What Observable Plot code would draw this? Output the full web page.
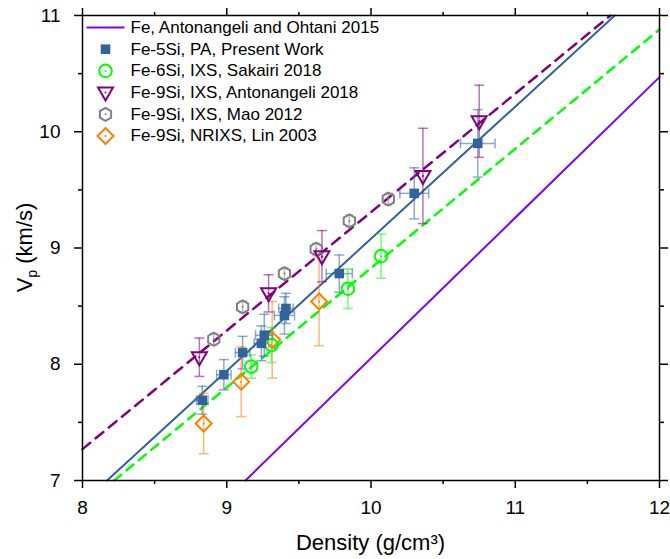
<!DOCTYPE html>
<html><head><meta charset="utf-8">
<script src="https://cdn.jsdelivr.net/npm/d3@7"></script>
<script src="https://cdn.jsdelivr.net/npm/@observablehq/plot@0.6"></script>
<style>body{margin:0;background:#fff;} svg{display:block;}</style>
</head><body><div id="chart"></div>
<script>
// ---- data ----
const xTicks = [8, 9, 10, 11, 12];
const xMinor = [8.5, 9.5, 10.5, 11.5];
const yTicks = [7, 8, 9, 10, 11];
const yMinor = [7.5, 8.5, 9.5, 10.5];

// fitted / reference lines (end points)
const feLineX = [9.13, 12];      const feLineY = [7, 10.47];
const fe5LineX = [8.17, 11.69];  const fe5LineY = [7, 11];
const sakLineX = [8.22, 12];     const sakLineY = [7, 10.88];
const antLineX = [8, 11.66];     const antLineY = [7.27, 11];

// Fe-5Si, PA, present work
const fe5x = [8.83, 8.98, 9.11, 9.24, 9.26, 9.40, 9.41, 9.78, 10.30, 10.74];
const fe5y = [7.69, 7.91, 8.10, 8.18, 8.25, 8.42, 8.48, 8.78, 9.47, 9.90];
const fe5yErr = [0.12, 0.13, 0.14, 0.15, 0.18, 0.16, 0.13, 0.16, 0.22, 0.29];
const fe5xErr = [0.04, 0.05, 0.05, 0.05, 0.06, 0.07, 0.05, 0.09, 0.10, 0.12];
// Fe-6Si, IXS, Sakairi 2018
const sakx = [9.17, 9.31, 9.84, 10.07];
const saky = [7.98, 8.165, 8.65, 8.93];
const sakErr = [0.10, 0.15, 0.17, 0.19];
// Fe-9Si, IXS, Antonangeli 2018
const antx = [8.81, 9.29, 9.66, 10.36, 10.75];
const anty = [8.06, 8.61, 8.93, 9.62, 10.09];
const antErr = [0.165, 0.16, 0.22, 0.41, 0.31];
// Fe-9Si, IXS, Mao 2012
const maox = [8.91, 9.11, 9.40, 9.62, 9.85, 10.12];
const maoy = [8.215, 8.494, 8.78, 8.99, 9.233, 9.42];
const maoErr = [0.05, 0.05, 0.05, 0.05, 0.05, 0.05];
// Fe-9Si, NRIXS, Lin 2003
const linx = [8.84, 9.10, 9.315, 9.64];
const liny = [7.49, 7.85, 8.21, 8.54];
const linErr = [0.26, 0.30, 0.33, 0.38];

const legendLabels = [
  "Fe, Antonangeli and Ohtani 2015",
  "Fe-5Si, PA, Present Work",
  "Fe-6Si, IXS, Sakairi 2018",
  "Fe-9Si, IXS, Antonangeli 2018",
  "Fe-9Si, IXS, Mao 2012",
  "Fe-9Si, NRIXS, Lin 2003"
];

// ---- styles ----
const cFe = "#8000ff", cBlue = "#31639c", cGreen = "#00ff00", cPurple = "#800080", cGrey = "#808080", cOrange = "#ff8000";

const sym = (pts) => ({draw(ctx) { ctx.moveTo(pts[0][0], pts[0][1]); for (const p of pts.slice(1)) ctx.lineTo(p[0], p[1]); ctx.closePath(); }});
const triDown = sym([[-7.5, -5], [7.5, -5], [0, 8]]);
const diamond = sym([[0, -8], [8, 0], [0, 8], [-8, 0]]);
const hexagon = sym(d3.range(6).map(k => [6.5 * Math.cos(Math.PI / 2 + k * Math.PI / 3), 6.5 * Math.sin(Math.PI / 2 + k * Math.PI / 3)]));
const capH = (w) => ({draw(ctx) { ctx.moveTo(-w, 0); ctx.lineTo(w, 0); }});
const capV = (w) => ({draw(ctx) { ctx.moveTo(0, -w); ctx.lineTo(0, w); }});
const lineSym = {draw(ctx) { ctx.moveTo(-19, 0); ctx.lineTo(19, 0); }};

function lineMark(xs, ys, color, dash) {
  const idx = d3.range(xs.length);
  return Plot.line(idx, {x: i => xs[i], y: i => ys[i], stroke: color, strokeWidth: dash ? 2.5 : 2, strokeDasharray: dash || null});
}
function errY(xs, ys, es, color, cap) {
  const idx = d3.range(xs.length);
  const o = {stroke: color, strokeOpacity: 0.55, strokeWidth: 1.5};
  return [
    Plot.ruleX(idx, {x: i => xs[i], y1: i => ys[i] - es[i], y2: i => ys[i] + es[i], ...o}),
    Plot.dot(idx, {x: i => xs[i], y: i => ys[i] - es[i], symbol: capH(cap), fill: "none", ...o}),
    Plot.dot(idx, {x: i => xs[i], y: i => ys[i] + es[i], symbol: capH(cap), fill: "none", ...o})
  ];
}
function errX(xs, ys, es, color, cap) {
  const idx = d3.range(xs.length);
  const o = {stroke: color, strokeOpacity: 0.55, strokeWidth: 1.5};
  return [
    Plot.ruleY(idx, {y: i => ys[i], x1: i => xs[i] - es[i], x2: i => xs[i] + es[i], ...o}),
    Plot.dot(idx, {x: i => xs[i] - es[i], y: i => ys[i], symbol: capV(cap), fill: "none", ...o}),
    Plot.dot(idx, {x: i => xs[i] + es[i], y: i => ys[i], symbol: capV(cap), fill: "none", ...o})
  ];
}
function openMarker(xs, ys, color, symbol) {
  const idx = d3.range(xs.length);
  return [
    Plot.dot(idx, {x: i => xs[i], y: i => ys[i], symbol, fill: "white", fillOpacity: 0, stroke: color, strokeWidth: 2, r: 6.3}),
    Plot.dot(idx, {x: i => xs[i], y: i => ys[i], r: 1, fill: color})
  ];
}

// legend marks
const legendSyms = [
  {symbol: lineSym, stroke: cFe, fill: "none", strokeWidth: 2},
  {symbol: "square", fill: cBlue, r: 5.4},
  {symbol: "circle", stroke: cGreen, fill: "none", strokeWidth: 2, r: 6.3, dot: true},
  {symbol: triDown, stroke: cPurple, fill: "none", strokeWidth: 2, dot: true},
  {symbol: hexagon, stroke: cGrey, fill: "none", strokeWidth: 2, dot: true},
  {symbol: diamond, stroke: cOrange, fill: "none", strokeWidth: 2, dot: true}
];
const legendMarks = [];
legendLabels.forEach((label, i) => {
  const dy = 12 + 21.7 * i;
  const s = legendSyms[i];
  const {dot, ...opts} = s;
  legendMarks.push(Plot.dot([label], {frameAnchor: "top-left", dx: 23, dy, ...opts}));
  if (dot) legendMarks.push(Plot.dot([label], {frameAnchor: "top-left", dx: 23, dy, r: 1, fill: s.stroke}));
  legendMarks.push(Plot.text([label], {frameAnchor: "top-left", dx: 48, dy, text: d => d, textAnchor: "start", lineAnchor: "middle", fontSize: 17, fill: "black"}));
});

const fe5idx = d3.range(fe5x.length);
const intFmt = d3.format("d");
const blank = () => "";

const chart = Plot.plot({
  width: 670,
  height: 559,
  marginLeft: 82,
  marginRight: 11,
  marginTop: 15,
  marginBottom: 79,
  style: {fontFamily: "'Liberation Sans', Arial, sans-serif", color: "black", background: "white", overflow: "visible"},
  x: {domain: [8, 12], label: null},
  y: {domain: [7, 11], label: null},
  marks: [
    lineMark(feLineX, feLineY, cFe),
    lineMark(fe5LineX, fe5LineY, cBlue),
    lineMark(sakLineX, sakLineY, cGreen, "9,7"),
    lineMark(antLineX, antLineY, cPurple, "10,7"),
    ...errY(maox, maoy, maoErr, cGrey, 4),
    ...errY(linx, liny, linErr, cOrange, 5),
    ...errY(sakx, saky, sakErr, cGreen, 5),
    ...errY(antx, anty, antErr, cPurple, 5),
    ...errY(fe5x, fe5y, fe5yErr, cBlue, 5),
    ...errX(fe5x, fe5y, fe5xErr, cBlue, 5),
    ...openMarker(maox, maoy, cGrey, hexagon),
    ...openMarker(linx, liny, cOrange, diamond),
    ...openMarker(sakx, saky, cGreen, "circle"),
    ...openMarker(antx, anty, cPurple, triDown),
    Plot.dot(fe5idx, {x: i => fe5x[i], y: i => fe5y[i], symbol: "square", fill: cBlue, r: 5.4}),
    ...legendMarks,
    Plot.frame({stroke: "black", strokeWidth: 1.5}),
    Plot.axisX({anchor: "bottom", ticks: xTicks, tickSize: 8, tickPadding: 12, fontSize: 19, strokeWidth: 1.5, tickFormat: intFmt, label: null}),
    Plot.axisX({anchor: "bottom", ticks: xMinor, tickSize: 4, tickFormat: blank, strokeWidth: 1.5, label: null}),
    Plot.axisX({anchor: "top", ticks: xTicks, tickSize: 8, tickFormat: blank, strokeWidth: 1.5, label: null}),
    Plot.axisX({anchor: "top", ticks: xMinor, tickSize: 4, tickFormat: blank, strokeWidth: 1.5, label: null}),
    Plot.axisY({anchor: "left", ticks: yTicks, tickSize: 8, tickPadding: 14, fontSize: 19, strokeWidth: 1.5, tickFormat: intFmt, label: null}),
    Plot.axisY({anchor: "left", ticks: yMinor, tickSize: 4, tickFormat: blank, strokeWidth: 1.5, label: null}),
    Plot.axisY({anchor: "right", ticks: yTicks, tickSize: 8, tickFormat: blank, strokeWidth: 1.5, label: null}),
    Plot.axisY({anchor: "right", ticks: yMinor, tickSize: 4, tickFormat: blank, strokeWidth: 1.5, label: null})
  ]
});

const svg = d3.select(chart);
// axis titles
svg.append("text")
  .attr("x", (82 + 659) / 2).attr("y", 550)
  .attr("text-anchor", "middle").attr("font-size", 22).attr("fill", "black")
  .text("Density (g/cm³)");
const yl = svg.append("text")
  .attr("transform", "translate(32," + (15 + 480) / 2 + ") rotate(-90)")
  .attr("text-anchor", "middle").attr("font-size", 22).attr("fill", "black");
yl.append("tspan").text("V");
yl.append("tspan").attr("font-size", 14).attr("dy", 5).text("p");
yl.append("tspan").attr("dy", -5).text(" (km/s)");

document.getElementById("chart").appendChild(chart);
</script>
</body></html>
